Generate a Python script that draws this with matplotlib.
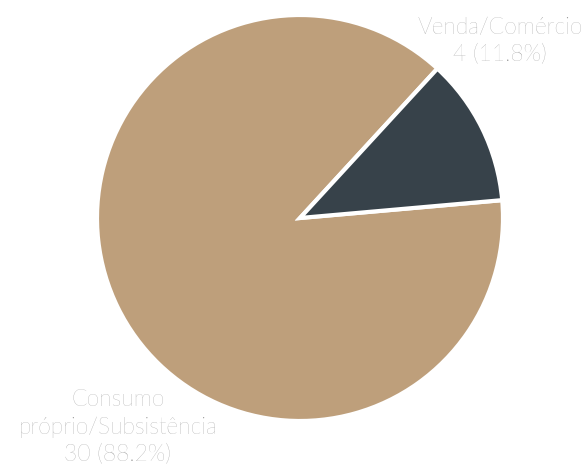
import matplotlib
matplotlib.use('Agg')
import matplotlib.pyplot as plt

# data
categories = ['Consumo\npróprio/Subsistência', 'Venda/Comércio']
counts = [30, 4]
colors = ['#BE9F7B', '#37424A']

W, H = 584, 467
fig = plt.figure(figsize=(W/100, H/100), dpi=100)
ax = fig.add_axes([0, 0, 1, 1])

total = sum(counts)
start = 47.4
ax.pie(counts, colors=colors, startangle=start, counterclock=True,
       center=(300, H - 218), radius=203, frame=True,
       wedgeprops=dict(edgecolor='white', linewidth=3))
ax.set_xlim(0, W)
ax.set_ylim(0, H)
ax.axis('off')

labels = ['%s\n%d (%.1f%%)' % (c, v, 100.0*v/total) for c, v in zip(categories, counts)]
txt = dict(family=['Lato', 'DejaVu Sans'], fontweight='light', color='#939393',
           fontsize=16.5, ha='center', va='center', linespacing=1.38)
ax.text(118, H - 427, labels[0], **txt)
ax.text(500, H - 41, labels[1], **txt)

fig.savefig('out.png', dpi=100)
